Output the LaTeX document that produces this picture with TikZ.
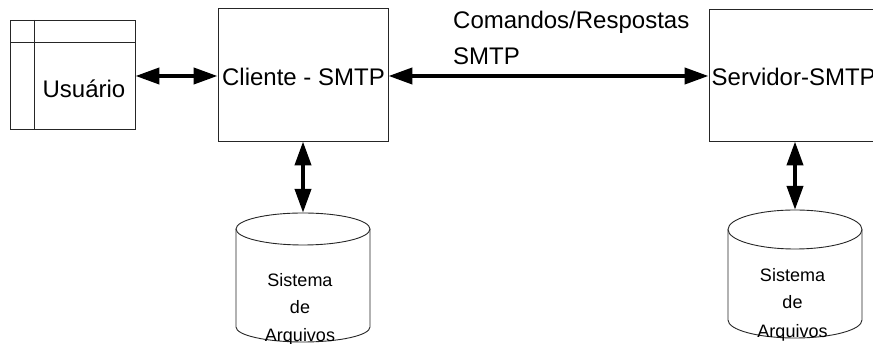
\documentclass[tikz,border=0pt]{standalone}
\usepackage{fontspec}
\setmainfont{Liberation Sans}
\usetikzlibrary{arrows.meta}
\begin{document}
\begin{tikzpicture}[x=1pt,y=1pt,
  boxn/.style={draw=black!85, line width=0.9pt, inner sep=0pt},
  thinl/.style={draw=black!85, line width=0.9pt},
  lab/.style={font=\fontsize{24}{28}\selectfont, inner sep=0pt},
  slab/.style={font=\fontsize{18}{22}\selectfont, inner sep=0pt, anchor=base},
  dbl/.style={line width=4pt, {Triangle[length=24pt,width=16pt]}-{Triangle[length=24pt,width=16pt]}},
  ghost/.style={inner sep=0pt, minimum width=134pt}]
\useasboundingbox (0,0) rectangle (873,344);
% Usuario
\node[boxn, minimum width=125pt, minimum height=109pt] (u) at (72.5,269.5) {};
\draw[thinl] (10,302) -- (135,302);
\draw[thinl] (34,324) -- (34,215);
\node[lab, anchor=base] (ut) at (84,246) {Usuário};
% Cliente
\node[boxn, minimum width=170pt, minimum height=133pt] (c) at (303,269.5) {};
\node[lab, anchor=base] (ct) at (303.5,258) {Cliente - SMTP};
% Servidor
\node[boxn, minimum width=166pt, minimum height=132pt] (sv) at (792,269) {};
\node[lab, anchor=base west] (st) at (711.5,258) {Servidor-SMTP};
% label
\node[lab, anchor=base west, align=left] (cm) at (453,315) {Comandos/Respostas};
\node[lab, anchor=base west] (cm2) at (453,279) {SMTP};
% cylinders
\node[ghost, minimum height=131pt] (fs1) at (303,65.5) {};
\draw[thinl] (303,115) ellipse [x radius=67pt, y radius=16pt];
\draw[thinl] (236,115) -- (236,17) arc[start angle=180, end angle=360, x radius=67pt, y radius=15pt] -- (370,115);
\node[slab] (s1a) at (300,57) {Sistema};
\node[slab] (s1b) at (300,30) {de};
\node[slab] (s1c) at (300,2) {Arquivos};
\node[ghost, minimum height=134pt] (fs2) at (795,67) {};
\draw[thinl] (795,114.5) ellipse [x radius=67pt, y radius=19.5pt];
\draw[thinl] (728,114.5) -- (728,24) arc[start angle=180, end angle=360, x radius=67pt, y radius=18pt] -- (862,114.5);
\node[slab] (s2a) at (792.5,62) {Sistema};
\node[slab] (s2b) at (792.5,35) {de};
\node[slab] (s2c) at (792.5,6) {Arquivos};
% connectors
\coordinate (ay) at (0,268);
\draw[dbl] (u.east |- ay) -- (c.west |- ay);
\draw[dbl] (c.east |- ay) -- (sv.west |- ay);
\draw[dbl] (c.south) -- (fs1.north);
\draw[dbl] (fs2.north |- sv.south) -- (fs2.north);
\end{tikzpicture}
\end{document}
